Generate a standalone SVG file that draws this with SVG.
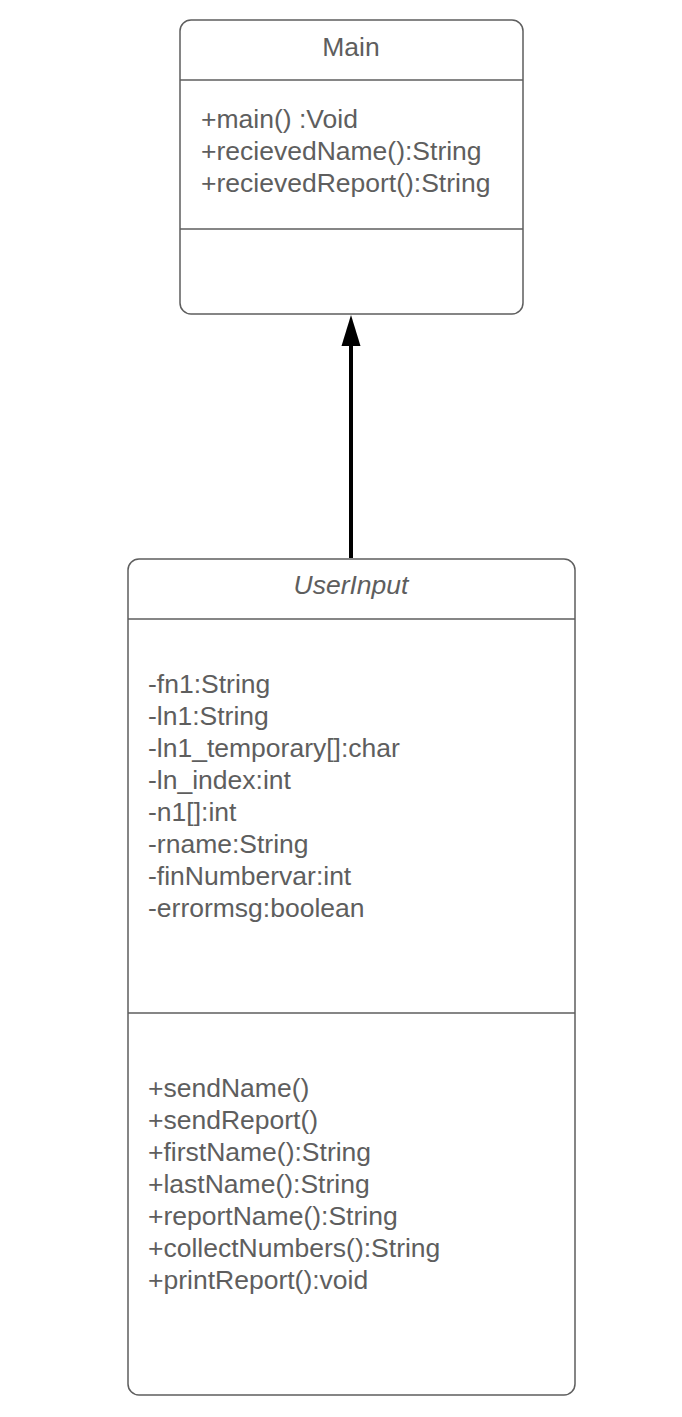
<svg xmlns="http://www.w3.org/2000/svg" width="682" height="1417" viewBox="0 0 682 1417">
<defs>
<style>
.box{fill:#fff;stroke:#5e5e5e;stroke-width:1.5}
.div{stroke:#5e5e5e;stroke-width:1.5}
.t{font-family:"Liberation Sans",Arial,sans-serif;font-size:26.5px;fill:#5e5e5e}
.c{text-anchor:middle}
</style>
</defs>
<rect width="682" height="1417" fill="#fff"/>
<g id="connectors">
<line x1="351" y1="558" x2="351" y2="344" stroke="#000" stroke-width="4"/>
<polygon points="351,315 341.5,346 360.5,346" fill="#000"/>
</g>
<g id="main">
<rect class="box" x="180" y="20" width="343" height="294" rx="11"/>
<line class="div" x1="180" y1="80" x2="523" y2="80"/>
<line class="div" x1="180" y1="229" x2="523" y2="229"/>
<text class="t c" x="351" y="56">Main</text>
<text class="t" x="201" y="128">+main() :Void</text>
<text class="t" x="201" y="160">+recievedName():String</text>
<text class="t" x="201" y="192">+recievedReport():String</text>
</g>
<g id="userinput">
<rect class="box" x="128" y="559" width="447" height="836" rx="11"/>
<line class="div" x1="128" y1="619" x2="575" y2="619"/>
<line class="div" x1="128" y1="1013" x2="575" y2="1013"/>
<text class="t c" x="351" y="594" font-style="italic">UserInput</text>
<text class="t" x="148" y="693">-fn1:String</text>
<text class="t" x="148" y="725">-ln1:String</text>
<text class="t" x="148" y="757">-ln1_temporary[]:char</text>
<text class="t" x="148" y="789">-ln_index:int</text>
<text class="t" x="148" y="821">-n1[]:int</text>
<text class="t" x="148" y="853">-rname:String</text>
<text class="t" x="148" y="885">-finNumbervar:int</text>
<text class="t" x="148" y="917">-errormsg:boolean</text>
<text class="t" x="148" y="1097">+sendName()</text>
<text class="t" x="148" y="1129">+sendReport()</text>
<text class="t" x="148" y="1161">+firstName():String</text>
<text class="t" x="148" y="1193">+lastName():String</text>
<text class="t" x="148" y="1225">+reportName():String</text>
<text class="t" x="148" y="1257">+collectNumbers():String</text>
<text class="t" x="148" y="1289">+printReport():void</text>
</g>
</svg>
